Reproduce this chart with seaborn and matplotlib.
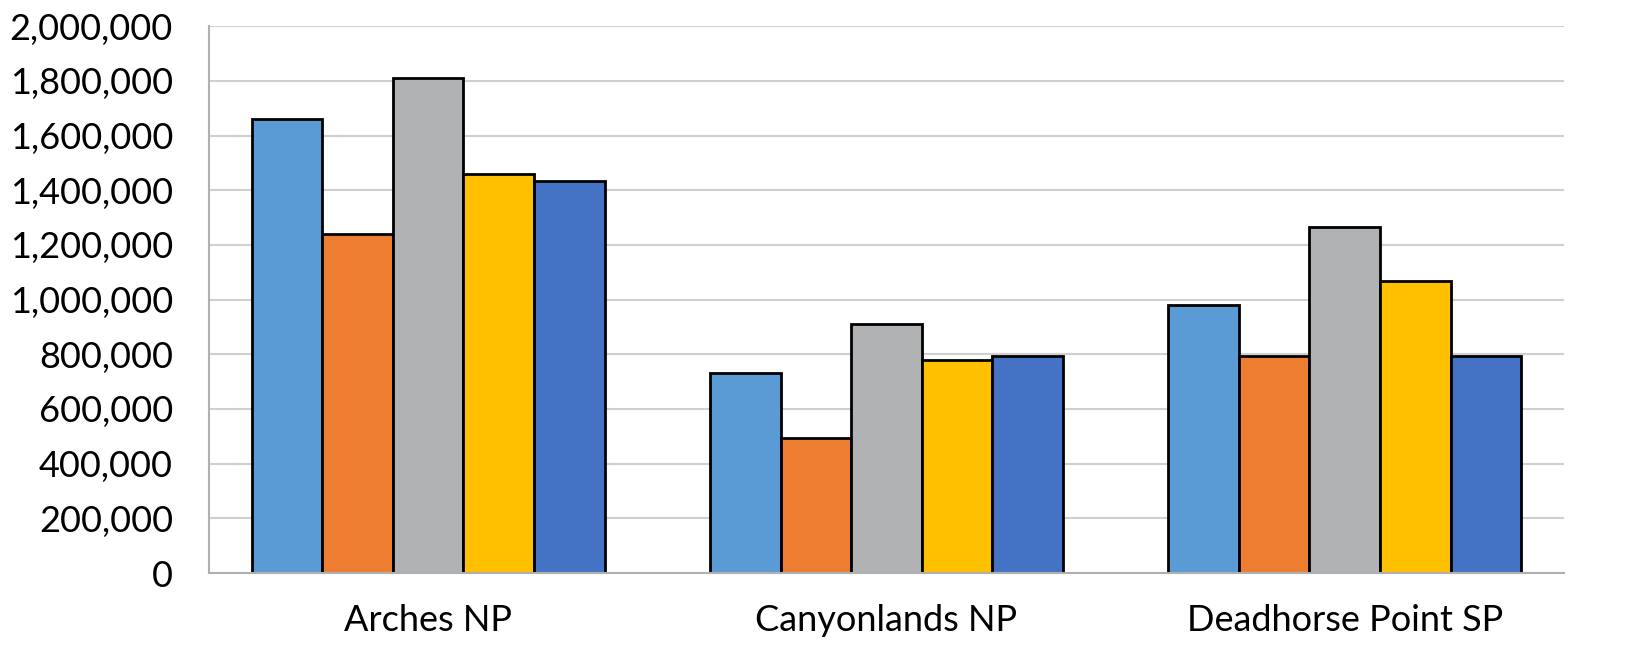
import matplotlib
matplotlib.use("Agg")
import matplotlib.pyplot as plt
import matplotlib.ticker as mticker
import seaborn as sns
import pandas as pd

categories = ["Arches NP", "Canyonlands NP", "Deadhorse Point SP"]
series = ["Series 1", "Series 2", "Series 3", "Series 4", "Series 5"]
values = {
    "Series 1": [1660000, 731000, 980000],
    "Series 2": [1239000, 494000, 793000],
    "Series 3": [1810000, 910000, 1265000],
    "Series 4": [1459000, 779000, 1068000],
    "Series 5": [1433000, 793000, 793000],
}
colors = ["#5B9BD5", "#ED7D31", "#B1B2B4", "#FFC000", "#4472C4"]
yticks = list(range(0, 2000001, 200000))

rows = []
for s in series:
    for c, v in zip(categories, values[s]):
        rows.append({"park": c, "series": s, "visitors": v})
df = pd.DataFrame(rows)

sns.set_theme(style="white")
plt.rcParams["font.family"] = ["Lato", "DejaVu Sans"]

fig = plt.figure(figsize=(16.46, 6.71), dpi=100)
ax = fig.add_axes([0.127, 0.146, 0.823, 0.815])

sns.barplot(data=df, x="park", y="visitors", hue="series", hue_order=series,
            order=categories, palette=colors, saturation=1, width=0.77, gap=0,
            edgecolor="black", linewidth=2, legend=False, ax=ax)

ax.set_xlim(-0.478, 2.478)
ax.set_ylim(0, 2000000)
ax.set_yticks(yticks)
ax.yaxis.set_major_formatter(mticker.FuncFormatter(lambda v, p: f"{int(v):,}"))
ax.yaxis.grid(True, color="#D0D0D0", linewidth=1.5)
ax.set_axisbelow(True)
ax.set_xlabel("")
ax.set_ylabel("")
for side in ["top", "right"]:
    ax.spines[side].set_visible(False)
for side in ["left", "bottom"]:
    ax.spines[side].set_color("#B0B0B0")
    ax.spines[side].set_linewidth(1.5)
ax.tick_params(axis="y", length=0, pad=26, labelsize=26, colors="black")
ax.tick_params(axis="x", length=0, pad=22, labelsize=26, colors="black")

fig.savefig("out.png", dpi=100)
